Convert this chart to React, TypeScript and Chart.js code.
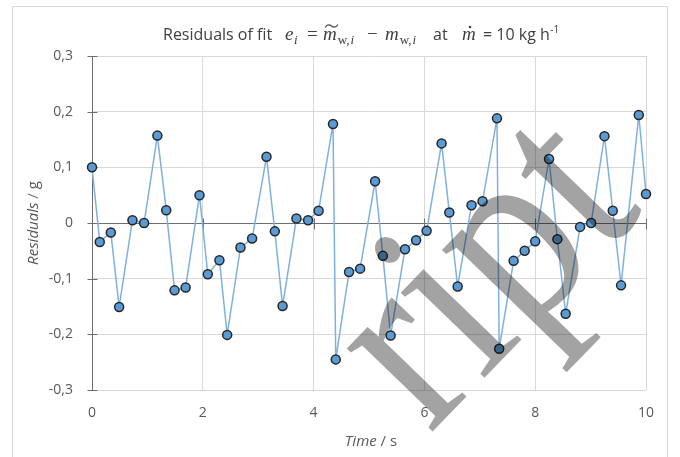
import React, { useEffect, useRef } from "react";
import { Chart, registerables } from "chart.js";
Chart.register(...registerables);

// ---- data ----
const timeS = [
  0, 0.14, 0.34, 0.49, 0.73, 0.94, 1.18, 1.34, 1.49, 1.69, 1.94, 2.09, 2.3, 2.44,
  2.68, 2.89, 3.15, 3.3, 3.44, 3.69, 3.9, 4.09, 4.35, 4.4, 4.64, 4.84, 5.11, 5.25,
  5.39, 5.65, 5.85, 6.04, 6.31, 6.45, 6.6, 6.85, 7.05, 7.31, 7.35, 7.61, 7.81, 8.0,
  8.25, 8.4, 8.55, 8.81, 9.01, 9.25, 9.4, 9.55, 9.87, 10.0,
];
const residualsG = [
  0.1, -0.034, -0.017, -0.151, 0.005, 0.0, 0.157, 0.023, -0.121, -0.116, 0.05, -0.092,
  -0.067, -0.201, -0.044, -0.028, 0.119, -0.015, -0.149, 0.008, 0.005, 0.022, 0.178,
  -0.245, -0.088, -0.082, 0.075, -0.059, -0.202, -0.047, -0.031, -0.014, 0.143, 0.019,
  -0.114, 0.032, 0.039, 0.188, -0.226, -0.068, -0.05, -0.033, 0.115, -0.029, -0.163,
  -0.007, 0.0, 0.156, 0.022, -0.112, 0.194, 0.052,
];
const xTicks = [0, 2, 4, 6, 8, 10];
const yTicks = [-0.3, -0.2, -0.1, 0, 0.1, 0.2, 0.3];
const titleMain = "Residuals of fit";
const xTitleItalic = "Time";
const xTitleRest = " / s";
const yTitleItalic = "Residuals";
const yTitleRest = " / g";
const watermarkText = "ript";

const SANS = "'Open Sans', sans-serif";
const SERIF = "'Liberation Serif', serif";
const GRID = "#d9d9d9";
const AXIS = "#6e6e6e";
const TEXT = "#595959";
const TITLE = "#404040";

const fmt = (v: number) =>
  Math.abs(v) < 1e-9 ? "0" : v.toFixed(1).replace(".", ",");

export default function App() {
  const ref = useRef<HTMLCanvasElement>(null);

  useEffect(() => {
    const canvas = ref.current!;
    const overlay = {
      id: "overlay",
      beforeDraw(chart: any) {
        const ctx = chart.ctx;
        ctx.save();
        ctx.fillStyle = "#fff";
        ctx.fillRect(0, 0, chart.width, chart.height);
        ctx.strokeStyle = "#d9d9d9";
        ctx.lineWidth = 1;
        ctx.strokeRect(12.5, 6.5, 655, 470);
        ctx.restore();
      },
      beforeDatasetsDraw(chart: any) {
        const ctx = chart.ctx;
        const xs = chart.scales.x;
        const ys = chart.scales.y;
        const a = chart.chartArea;
        const y0 = Math.round(ys.getPixelForValue(0)) + 0.5;
        ctx.save();
        ctx.strokeStyle = AXIS;
        ctx.lineWidth = 1;
        ctx.beginPath();
        ctx.moveTo(a.left, y0);
        ctx.lineTo(a.right, y0);
        for (const t of xTicks) {
          if (t === 0) continue;
          const px = Math.round(xs.getPixelForValue(t)) + 0.5;
          ctx.moveTo(px, y0 - 5);
          ctx.lineTo(px, y0 + 6);
        }
        const lx = Math.round(a.left) + 0.5;
        for (const v of yTicks) {
          const py = Math.round(ys.getPixelForValue(v)) + 0.5;
          ctx.moveTo(lx - 5, py);
          ctx.lineTo(lx + 5, py);
        }
        ctx.stroke();
        ctx.restore();
      },
      afterDraw(chart: any) {
        const ctx = chart.ctx;
        ctx.save();
        // ---- title ----
        const by = 40;
        ctx.fillStyle = TITLE;
        ctx.strokeStyle = TITLE;
        ctx.textBaseline = "alphabetic";
        ctx.textAlign = "left";
        const put = (s: string, font: string, x: number, y: number) => {
          ctx.font = font;
          ctx.fillText(s, x, y);
          return x + ctx.measureText(s).width;
        };
        const MI = `italic 19px ${SERIF}`;
        const MR = `19px ${SERIF}`;
        const SI = `italic 13px ${SERIF}`;
        const SR = `13px ${SERIF}`;
        put(titleMain, `16px ${SANS}`, 163, by);
        let x = put("e", MI, 285, by);
        put("i", SI, x + 0.5, by + 4);
        put("=", MR, 307, by);
        x = put("m", MI, 323, by);
        // tilde over m
        ctx.lineWidth = 1.1;
        ctx.beginPath();
        const tx = 325, ty = 26, tw = 13;
        ctx.moveTo(tx, ty + 1.5);
        ctx.bezierCurveTo(tx + tw * 0.2, ty - 2.5, tx + tw * 0.4, ty - 1, tx + tw * 0.5, ty);
        ctx.bezierCurveTo(tx + tw * 0.6, ty + 1, tx + tw * 0.8, ty + 2.5, tx + tw, ty - 1.5);
        ctx.stroke();
        x = put("w,", SR, x + 1, by + 4);
        put("i", SI, x + 1, by + 4);
        put("\u2212", MR, 367, by);
        x = put("m", MI, 385, by);
        x = put("w,", SR, x + 1, by + 4);
        put("i", SI, x + 1, by + 4);
        put("at", `16px ${SANS}`, 433, by);
        x = put("m", MI, 462, by);
        ctx.beginPath();
        ctx.arc(470, 27, 1.3, 0, Math.PI * 2);
        ctx.fill();
        x = put("= 10 kg h", `16px ${SANS}`, 483, by);
        put("-1", `10px ${SANS}`, x + 0.5, by - 7);

        // ---- axis titles ----
        ctx.fillStyle = TEXT;
        ctx.font = `italic 15px ${SANS}`;
        const xw1 = ctx.measureText(xTitleItalic).width;
        ctx.font = `15px ${SANS}`;
        const xw2 = ctx.measureText(xTitleRest).width;
        const xcx = 371, xcy = 442;
        ctx.textBaseline = "middle";
        ctx.font = `italic 15px ${SANS}`;
        ctx.fillText(xTitleItalic, xcx - (xw1 + xw2) / 2, xcy);
        ctx.font = `15px ${SANS}`;
        ctx.fillText(xTitleRest, xcx - (xw1 + xw2) / 2 + xw1, xcy);

        ctx.save();
        ctx.translate(34, 223);
        ctx.rotate(-Math.PI / 2);
        ctx.font = `italic 15px ${SANS}`;
        const yw1 = ctx.measureText(yTitleItalic).width;
        ctx.font = `15px ${SANS}`;
        const yw2 = ctx.measureText(yTitleRest).width;
        ctx.font = `italic 15px ${SANS}`;
        ctx.fillText(yTitleItalic, -(yw1 + yw2) / 2, 0);
        ctx.font = `15px ${SANS}`;
        ctx.fillText(yTitleRest, -(yw1 + yw2) / 2 + yw1, 0);
        ctx.restore();

        // ---- watermark ----
        ctx.save();
        const F = 260;
        ctx.font = `${F}px ${SERIF}`;
        ctx.textBaseline = "alphabetic";
        ctx.translate(385, 245);
        ctx.rotate((-46 * Math.PI) / 180);
        ctx.scale(0.86, 1);
        ctx.fillStyle = "rgba(0,0,0,0.36)";
        ctx.fillText(watermarkText, -0.472 * F, 0.63 * F);
        ctx.restore();

        ctx.restore();
      },
    };

    const chart = new Chart(canvas, {
      type: "line",
      data: {
        datasets: [
          {
            data: timeS.map((t, i) => ({ x: t, y: residualsG[i] })),
            borderColor: "#7fb1df",
            borderWidth: 1.5,
            backgroundColor: "#5b9bd5",
            pointBackgroundColor: "#5b9bd5",
            pointBorderColor: "#262626",
            pointBorderWidth: 1.5,
            pointRadius: 4.5,
            tension: 0,
            clip: false,
          },
        ],
      },
      options: {
        responsive: false,
        animation: false,
        devicePixelRatio: 1,
        layout: { padding: { left: 0, top: 56, right: 34, bottom: 0 } },
        plugins: {
          legend: { display: false },
          tooltip: { enabled: false },
          title: { display: false },
        },
        scales: {
          x: {
            type: "linear",
            min: 0,
            max: 10,
            afterBuildTicks: (s: any) => {
              s.ticks = xTicks.map((v) => ({ value: v }));
            },
            ticks: {
              color: TEXT,
              font: { family: SANS, size: 14 },
              padding: 15,
              maxRotation: 0,
              autoSkip: false,
              callback: (v: any) => String(v),
            },
            grid: { color: GRID, drawTicks: false },
            border: { display: false },
            afterFit: (s: any) => {
              s.height = 67;
            },
          },
          y: {
            type: "linear",
            min: -0.3,
            max: 0.3,
            afterBuildTicks: (s: any) => {
              s.ticks = yTicks.map((v) => ({ value: v }));
            },
            ticks: {
              color: TEXT,
              font: { family: SANS, size: 14 },
              padding: 19,
              callback: (v: any) => fmt(Number(v)),
            },
            grid: { color: GRID, drawTicks: false },
            border: { display: true, color: AXIS, width: 1 },
            afterFit: (s: any) => {
              s.width = 92;
            },
          },
        },
      },
      plugins: [overlay],
    } as any);
    return () => chart.destroy();
  }, []);

  return (
    <div style={{ position: "fixed", left: 0, top: 0, width: 680, height: 457, background: "#fff" }}>
      <canvas ref={ref} width={680} height={457} style={{ display: "block" }} />
    </div>
  );
}
